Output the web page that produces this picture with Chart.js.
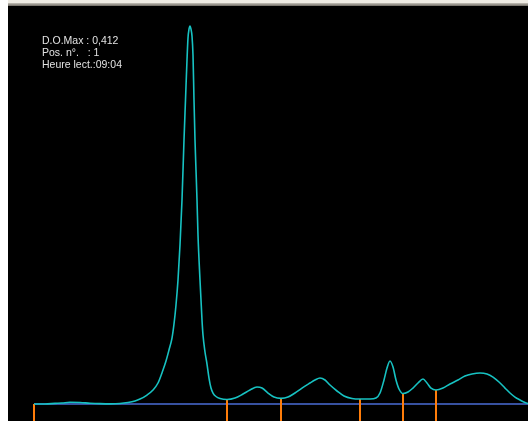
<!DOCTYPE html>
<html>
<head>
<meta charset="utf-8">
<script src="https://cdn.jsdelivr.net/npm/chart.js@4"></script>
<style>
    html, body { margin: 0; padding: 0; background: #fff; }
    body { width: 528px; height: 421px; position: relative; overflow: hidden; }
    .frame-top { position: absolute; left: 8px; top: 0; width: 520px; height: 3px; background: #eeebe3; }
    .frame-line { position: absolute; left: 8px; top: 3px; width: 520px; height: 3px; background: linear-gradient(#c4c0b8, #6e6a62); }
    .plot { position: absolute; left: 8px; top: 6px; width: 520px; height: 415px; background: #000; }
    .plot canvas { position: absolute; left: 0; top: 0; }
    .info { position: absolute; left: 34px; top: 28px; color: #e2e2e2;
            font: 10.5px "Liberation Sans", "DejaVu Sans", sans-serif; line-height: 12px; white-space: pre; }
</style>
</head>
<body>
<div class="frame-top"></div>
<div class="frame-line"></div>
<div class="plot">
    <canvas id="scan" width="520" height="415"></canvas>
    <div class="info">D.O.Max : 0,412
Pos. n°.   : 1
Heure lect.:09:04</div>
</div>
<script>
/* densitometry scan: position along the strip and optical density */
const positions = [
    0, 11, 21, 28, 36, 46, 56, 66, 76, 86,
    94, 101, 106, 113, 119, 124, 129, 132, 135, 138,
    140, 142, 144, 146, 148, 150, 151.5, 153, 154, 155,
    156, 157, 158, 159, 160, 161, 162, 163, 164, 166,
    168, 169, 171, 173, 175, 177, 179, 182, 186, 193,
    201, 209, 216, 223, 228, 234, 240, 247, 254, 261,
    268, 276, 281, 286, 291, 296, 303, 310, 318, 326,
    336, 342, 346, 350, 353, 356, 359, 362, 365, 369,
    374, 379, 384, 389, 393, 397, 402, 409, 416, 424,
    431, 438, 446, 453, 459, 465, 471, 476, 481, 486,
    491, 496
];
const density = [
    0, 0, 0.0007, 0.0011, 0.0019, 0.0017, 0.0009, 0.0004, 0.0002, 0.0005,
    0.0016, 0.0033, 0.0054, 0.0098, 0.0153, 0.0229, 0.0371, 0.0469, 0.0589, 0.0719,
    0.0872, 0.1079, 0.1352, 0.1733, 0.2224, 0.2877, 0.3314, 0.3750, 0.3990, 0.4085,
    0.4120, 0.4085, 0.4010, 0.3804, 0.3314, 0.2877, 0.2551, 0.2224, 0.1842, 0.1352,
    0.0916, 0.0752, 0.0567, 0.0436, 0.0283, 0.0174, 0.0120, 0.0082, 0.0060, 0.0049,
    0.0065, 0.0109, 0.0153, 0.0185, 0.0174, 0.0120, 0.0076, 0.0062, 0.0076, 0.0120,
    0.0174, 0.0229, 0.0262, 0.0283, 0.0262, 0.0207, 0.0142, 0.0087, 0.0060, 0.0054,
    0.0054, 0.0065, 0.0120, 0.0262, 0.0392, 0.0469, 0.0403, 0.0262, 0.0164, 0.0114,
    0.0131, 0.0174, 0.0229, 0.0272, 0.0229, 0.0174, 0.0153, 0.0174, 0.0218, 0.0262,
    0.0305, 0.0327, 0.0338, 0.0327, 0.0294, 0.0240, 0.0174, 0.0120, 0.0076, 0.0044,
    0.0016, 0
];
// fraction separators
const separators = [0, 193, 247, 326, 369, 402];

const X_MIN = -26, X_MAX = 494;
const Y_MIN = -0.0185, Y_MAX = 0.4338;

function densityAt(p) {
    const i = positions.indexOf(p);
    return i >= 0 ? density[i] : 0;
}

const curve = {
    data: positions.map((p, i) => ({ x: p, y: density[i] })),
    borderColor: "#17c2c2",
    borderWidth: 1.6,
    pointRadius: 0,
    cubicInterpolationMode: "monotone",
    order: 0
};
const baseline = {
    data: [{ x: 0, y: 0 }, { x: X_MAX, y: 0 }],
    borderColor: "#4a6cd6",
    borderWidth: 1.5,
    pointRadius: 0,
    order: 2
};
const ticks = separators.map(p => ({
    data: [{ x: p, y: densityAt(p) }, { x: p, y: Y_MIN }],
    borderColor: "#ff7d0a",
    borderWidth: 2,
    pointRadius: 0,
    order: 1
}));

new Chart(document.getElementById("scan"), {
    type: "line",
    data: { datasets: [curve, baseline, ...ticks] },
    options: {
        responsive: false,
        animation: false,
        devicePixelRatio: 1,
        layout: { padding: 0 },
        plugins: { legend: { display: false }, tooltip: { enabled: false } },
        scales: {
            x: { type: "linear", min: X_MIN, max: X_MAX, display: false },
            y: { min: Y_MIN, max: Y_MAX, display: false }
        }
    }
});
</script>
</body>
</html>
